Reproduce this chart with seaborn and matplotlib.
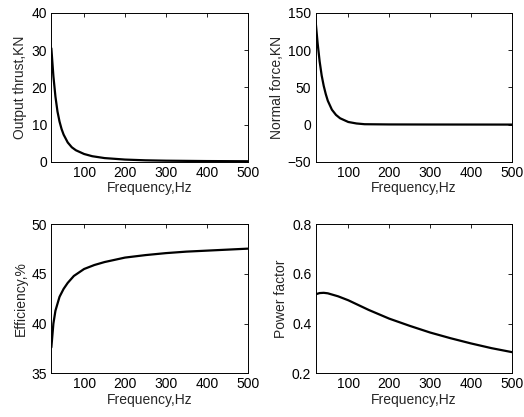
import matplotlib
matplotlib.use("Agg")
import matplotlib.pyplot as plt
import seaborn as sns
import numpy as np
import pandas as pd

# Values
freq_thrust = [20, 25, 30, 35, 40, 45, 50, 60, 70, 80, 100, 120, 150, 200, 250, 300, 400, 500]
thrust = [30.5, 23.0, 17.5, 13.5, 10.8, 8.8, 7.3, 5.2, 3.9, 3.1, 2.1, 1.5, 1.0, 0.6, 0.4, 0.3, 0.2, 0.15]

freq_normal = [20, 25, 30, 35, 40, 45, 50, 60, 70, 80, 100, 120, 140, 200, 300, 400, 500]
normal = [140, 110, 85, 66, 52, 41, 32, 20, 13, 8.5, 3.5, 1.5, 0.5, 0.2, 0.1, 0.05, 0.0]

freq_eff = [20, 25, 30, 40, 50, 60, 75, 100, 125, 150, 200, 250, 300, 350, 400, 450, 500]
efficiency = [37.6, 40.0, 41.3, 42.7, 43.5, 44.1, 44.8, 45.5, 45.9, 46.2, 46.65, 46.9, 47.1, 47.25, 47.35, 47.45, 47.55]

freq_pf = [20, 30, 40, 50, 75, 100, 150, 200, 250, 300, 350, 400, 450, 500]
power_factor = [0.518, 0.523, 0.524, 0.522, 0.510, 0.494, 0.455, 0.420, 0.391, 0.364, 0.341, 0.320, 0.301, 0.285]

panels = [
    (freq_thrust, thrust, "Output thrust,KN", (0, 40), [0, 10, 20, 30, 40]),
    (freq_normal, normal, "Normal force,KN", (-50, 150), [-50, 0, 50, 100, 150]),
    (freq_eff, efficiency, "Efficiency,%", (35, 50), [35, 40, 45, 50]),
    (freq_pf, power_factor, "Power factor", (0.2, 0.8), [0.2, 0.4, 0.6, 0.8]),
]

sns.set_style("white")
plt.rcParams["font.family"] = ["Liberation Sans", "DejaVu Sans"]
fs = 10

fig, axes = plt.subplots(2, 2, figsize=(5.24, 4.17), dpi=100)
fig.subplots_adjust(left=0.098, right=0.977, top=0.969, bottom=0.105, wspace=0.345, hspace=0.42)

for ax, (x, y, label, ylim, yticks) in zip(axes.flat, panels):
    df = pd.DataFrame({"f": x, "v": y})
    sns.lineplot(data=df, x="f", y="v", ax=ax, color="black", linewidth=1.6)
    ax.set_xlim(20, 500)
    ax.set_ylim(*ylim)
    ax.set_xticks([100, 200, 300, 400, 500])
    ax.set_yticks(yticks)
    ax.set_xlabel("Frequency,Hz", fontsize=fs, labelpad=1)
    ax.set_ylabel(label, fontsize=fs, labelpad=3)
    ax.tick_params(direction="in", length=3, width=0.6, top=True, right=True,
                   labelsize=fs, pad=3, colors="black")
    for s in ax.spines.values():
        s.set_linewidth(0.7)
        s.set_color("black")

fig.savefig("out.png", dpi=100)
